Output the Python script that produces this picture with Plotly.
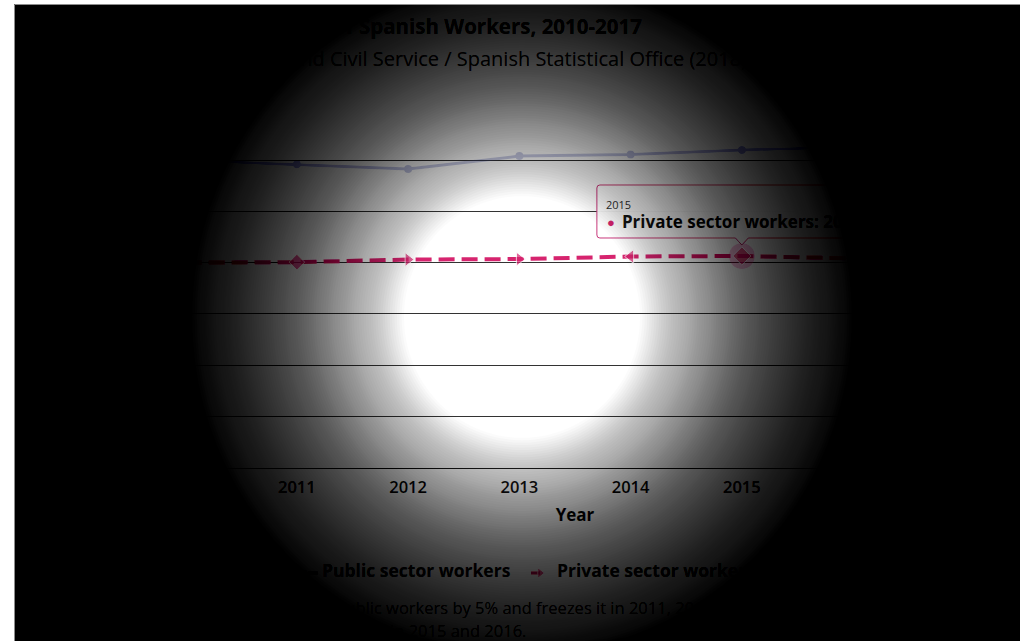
import math
import plotly.graph_objects as go

# ---------------- data ----------------
YEARS = [2010, 2011, 2012, 2013, 2014, 2015, 2016, 2017]
PUBLIC_SALARY = [30000, 29600, 29150, 30400, 30550, 31000, 31300, 31500]
PRIVATE_SALARY = [20000, 20050, 20300, 20350, 20600, 20650, 20400, 20500]
Y_TICKS = [0, 5000, 10000, 15000, 20000, 25000, 30000, 35000]
SERIES_NAMES = ["Public sector workers", "Private sector workers"]
HOVER_YEAR = 2015

TITLE = "Average Annual Salary of Spanish Workers, 2010-2017"
SUBTITLE = "Source: Ministry of Finance and Civil Service / Spanish Statistical Office (2018)"
X_TITLE = "Year"
CAPTION = [
    "Note: Government cuts the salary of public workers by 5% and freezes it in 2011, 2012 and 2013 amid the crisis,",
    "and then lifts it by 0.25% in 2014 and by 1% in 2015 and 2016.",
]

# ---------------- geometry & style ----------------
W, H = 1020, 641
PLOT_L, PLOT_R, PLOT_T, PLOT_B = 130, 1020, 109, 467.5
X_RANGE = [2009.5, 2017.5]
Y_RANGE = [0, 35000]
FONT = "Open Sans, sans-serif"
TEXT = "#1f1f1f"
PUBLIC_COLOR = "#434d9a"
PRIVATE_COLOR = "#d6246e"
TOOLTIP_BORDER = "#c8387c"
PRIVATE_SYMBOLS = ["diamond", "diamond", "triangle-right", "triangle-right",
                   "triangle-left", "diamond", "diamond", "diamond"]

# spotlight: dark frame with an elliptical lit area
OV_X0, OV_Y0, OV_X1, OV_Y1 = 14, 4, W, H
SPOT_CX, SPOT_CY, SPOT_RX, SPOT_RY = 522, 317, 330, 338
SPOT_PROFILE = [(0.35, 0.0), (0.42, 0.17), (0.52, 0.34), (0.67, 0.60),
                (0.82, 0.79), (0.92, 0.87), (0.975, 0.93), (1.0, 1.0)]


def px_x(year):
    return PLOT_L + (year - X_RANGE[0]) / (X_RANGE[1] - X_RANGE[0]) * (PLOT_R - PLOT_L)


def px_y(value):
    return PLOT_B - (value - Y_RANGE[0]) / (Y_RANGE[1] - Y_RANGE[0]) * (PLOT_B - PLOT_T)


def label(x, y, text, size, color=TEXT, pos="middle center", weight="normal"):
    """Text placed in page pixels on the full-page helper axes."""
    return go.Scatter(
        x=[x], y=[y], xaxis="x2", yaxis="y2", mode="text", text=[text],
        textposition=pos, cliponaxis=False, hoverinfo="skip", showlegend=False,
        textfont=dict(family=FONT, size=size, color=color, weight=weight),
    )


def profile(f):
    for (f0, a0), (f1, a1) in zip(SPOT_PROFILE, SPOT_PROFILE[1:]):
        if f <= f1:
            return a0 + (a1 - a0) * (f - f0) / (f1 - f0)
    return 1.0


def ring_path(f, n=96):
    """Frame rectangle with an elliptical hole of relative radius f (clamped to the frame)."""
    pts = []
    for k in range(n + 1):
        t = -2 * math.pi * k / n
        x = min(max(SPOT_CX + f * SPOT_RX * math.cos(t), OV_X0), OV_X1)
        y = min(max(SPOT_CY + f * SPOT_RY * math.sin(t), OV_Y0), OV_Y1)
        pts.append(f"{x:.1f},{y:.1f}")
    return (f"M{OV_X0},{OV_Y0} H{OV_X1} V{OV_Y1} H{OV_X0} Z "
            f"M{pts[0]} L" + " L".join(pts[1:]) + " Z")


fig = go.Figure()

# ---------------- series ----------------
fig.add_trace(go.Scatter(
    x=YEARS, y=PUBLIC_SALARY, name=SERIES_NAMES[0], mode="lines+markers",
    line=dict(color=PUBLIC_COLOR, width=3),
    marker=dict(symbol="circle", size=8, color=PUBLIC_COLOR),
    opacity=0.28, hoverinfo="skip",
))

hi = YEARS.index(HOVER_YEAR)
fig.add_trace(go.Scatter(
    x=[YEARS[hi]], y=[PRIVATE_SALARY[hi]], mode="markers",
    marker=dict(size=26, color=PRIVATE_COLOR, opacity=0.22),
    hoverinfo="skip", showlegend=False,
))
fig.add_trace(go.Scatter(
    x=YEARS, y=PRIVATE_SALARY, name=SERIES_NAMES[1], mode="lines+markers",
    line=dict(color=PRIVATE_COLOR, width=4, dash="16px,7px"),
    marker=dict(symbol=PRIVATE_SYMBOLS, color=PRIVATE_COLOR,
                size=[14 if y == HOVER_YEAR else 12 for y in YEARS]),
    hoverinfo="skip",
))

# ---------------- titles ----------------
fig.add_trace(label(642, 29, f"<b>{TITLE}</b>", 20.5, pos="middle left"))
fig.add_trace(label(33, 61, SUBTITLE, 20, color="#2a2a2a", pos="middle right"))
fig.add_trace(label(575, 517, f"<b>{X_TITLE}</b>", 17))

# ---------------- legend ----------------
LEG_Y = 573
fig.add_trace(go.Scatter(
    x=[290, 304, 318], y=[LEG_Y] * 3, xaxis="x2", yaxis="y2", mode="lines+markers",
    line=dict(color=PUBLIC_COLOR, width=3), marker=dict(size=[0, 8, 0], color=PUBLIC_COLOR),
    hoverinfo="skip", showlegend=False, cliponaxis=False,
))
fig.add_trace(label(322, LEG_Y, f"<b>{SERIES_NAMES[0]}</b>", 17.5, color="#2a2a2a", pos="middle right"))
fig.add_trace(go.Scatter(
    x=[531, 540], y=[LEG_Y] * 2, xaxis="x2", yaxis="y2", mode="lines+markers",
    line=dict(color=PRIVATE_COLOR, width=3),
    marker=dict(size=[0, 9], symbol="triangle-right", color=PRIVATE_COLOR),
    hoverinfo="skip", showlegend=False, cliponaxis=False,
))
fig.add_trace(label(557, LEG_Y, f"<b>{SERIES_NAMES[1]}</b>", 17.5, color="#2a2a2a", pos="middle right"))

# ---------------- caption ----------------
for i, line in enumerate(CAPTION):
    fig.add_trace(label(53, 610 + 22.5 * i, line, 16.5, color="#333333", pos="middle right"))

# ---------------- tooltip on the hovered point ----------------
tx, ty = px_x(YEARS[hi]), px_y(PRIVATE_SALARY[hi])
bx0, bx1, by0, by1, r = tx - 145, tx + 145, ty - 71, ty - 18, 3
tooltip_path = (
    f"M{bx0 + r},{by0} H{bx1 - r} Q{bx1},{by0} {bx1},{by0 + r} V{by1 - r} "
    f"Q{bx1},{by1} {bx1 - r},{by1} H{tx + 6.5} L{tx},{ty - 11} L{tx - 6.5},{by1} "
    f"H{bx0 + r} Q{bx0},{by1} {bx0},{by1 - r} V{by0 + r} Q{bx0},{by0} {bx0 + r},{by0} Z"
)
fig.add_shape(type="path", path=tooltip_path, xref="x2", yref="y2", layer="below",
              fillcolor="rgba(255,255,255,0.96)", line=dict(color=TOOLTIP_BORDER, width=1))
fig.add_trace(label(tx - 136, ty - 50, str(YEARS[hi]), 11, color="#333333", pos="middle right"))
fig.add_trace(label(tx - 131, ty - 32, "●", 13, color=PRIVATE_COLOR))
value_txt = f"{PRIVATE_SALARY[hi]:,}".replace(",", " ")
fig.add_trace(label(tx - 120, ty - 32, f"<b>{SERIES_NAMES[1]}: {value_txt}</b>", 17,
                    color="#1a1a1a", pos="middle right"))

# ---------------- spotlight overlay: stacked translucent rings ----------------
n_rings = 90
prev = 0.0
for k in range(1, n_rings + 1):
    f = SPOT_PROFILE[0][0] + (1.0 - SPOT_PROFILE[0][0]) * k / n_rings
    cum = profile(f)
    alpha = 1.0 if cum >= 1.0 else 1 - (1 - cum) / (1 - prev)
    prev = cum
    fig.add_shape(type="path", path=ring_path(f), xref="x2", yref="y2", layer="above",
                  fillcolor=f"rgba(0,0,0,{alpha:.4f})", line=dict(width=0))
fig.add_shape(type="path", path=f"M{OV_X0 + 0.5},{OV_Y1} V{OV_Y0 + 0.5} H{OV_X1}",
              xref="x2", yref="y2", layer="above", line=dict(color="#8c8c8c", width=1))

# ---------------- axes & layout ----------------
fig.update_layout(
    width=W, height=H, autosize=False,
    margin=dict(l=0, r=0, t=0, b=0, pad=0, autoexpand=False),
    paper_bgcolor="white", plot_bgcolor="rgba(0,0,0,0)",
    showlegend=False, hovermode=False,
    font=dict(family=FONT, color=TEXT),
    xaxis=dict(
        domain=[PLOT_L / W, PLOT_R / W], range=X_RANGE, tickvals=YEARS, automargin=False,
        showgrid=False, zeroline=False, showline=True, linecolor="#222222", linewidth=1,
        ticks="", ticklabelstandoff=5,
        tickfont=dict(family=FONT, size=16.5, color=TEXT, weight=600),
    ),
    yaxis=dict(
        domain=[(H - PLOT_B) / H, (H - PLOT_T) / H], range=Y_RANGE, tickvals=Y_TICKS,
        automargin=False, showgrid=True, gridcolor="#333333", gridwidth=1.3, zeroline=False,
        ticks="", tickfont=dict(family=FONT, size=14, color=TEXT),
    ),
    xaxis2=dict(domain=[0, 1], range=[0, W], visible=False, anchor="y2",
                fixedrange=True, automargin=False),
    yaxis2=dict(domain=[0, 1], range=[H, 0], visible=False, anchor="x2",
                fixedrange=True, automargin=False),
)

fig.write_html("out.html", config={"displayModeBar": False})
